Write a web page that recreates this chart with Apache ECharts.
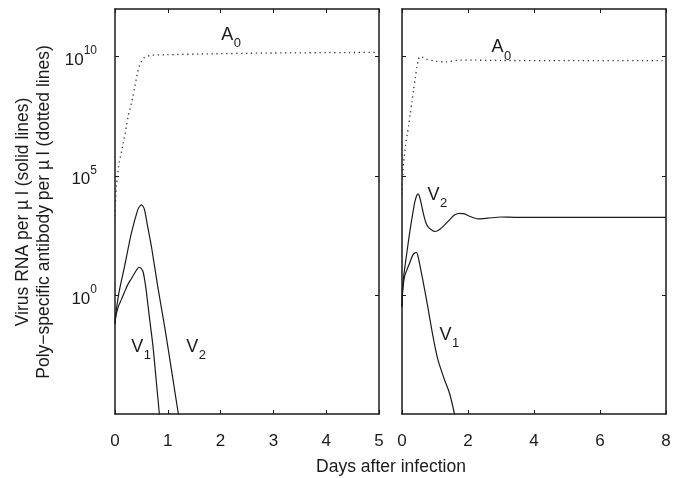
<!DOCTYPE html>
<html><head><meta charset="utf-8">
<script src="https://cdn.jsdelivr.net/npm/echarts@6/dist/echarts.min.js"></script>
<style>html,body{margin:0;padding:0;background:#fff}#c{width:685px;height:478px}</style>
</head><body><div id="c"></div>
<script>
// ---- data: [day, log10(value)] ----
const leftA0 = [[0,3.3],[0.008,3.8],[0.015,4.13],[0.028,4.62],[0.042,4.87],[0.053,5.11],[0.066,5.35],[0.08,5.57],[0.104,5.81],[0.129,6.06],[0.148,6.30],[0.167,6.51],[0.193,6.76],[0.22,7.14],[0.25,7.49],[0.28,7.77],[0.31,8.05],[0.34,8.33],[0.37,8.68],[0.40,9.03],[0.43,9.35],[0.46,9.59],[0.50,9.80],[0.54,9.94],[0.59,10.01],[0.69,10.06],[0.97,10.08],[1.6,10.11],[2.86,10.15],[5,10.18]];
const leftV1 = [[0,-1.2],[0.01,-1.0],[0.03,-0.75],[0.07,-0.45],[0.117,-0.21],[0.18,0.12],[0.24,0.42],[0.31,0.68],[0.37,0.91],[0.42,1.08],[0.45,1.16],[0.49,1.12],[0.53,0.98],[0.56,0.65],[0.59,0.21],[0.62,-0.35],[0.65,-0.91],[0.72,-2.17],[0.78,-3.57],[0.84,-5],[0.86,-5.5]];
const leftV2 = [[0,-1.2],[0.01,-0.9],[0.04,-0.4],[0.085,0.21],[0.18,1.19],[0.31,2.59],[0.43,3.57],[0.47,3.72],[0.50,3.78],[0.53,3.72],[0.56,3.57],[0.62,2.85],[0.69,2.03],[0.81,0.35],[0.94,-1.33],[1.06,-3.01],[1.20,-5],[1.23,-5.4]];
const rightA0 = [[0,4.2],[0.006,4.59],[0.015,4.83],[0.025,5.08],[0.036,5.32],[0.046,5.53],[0.067,5.79],[0.085,6.02],[0.106,6.26],[0.127,6.48],[0.158,6.72],[0.2,7.1],[0.25,7.6],[0.3,8.1],[0.35,8.6],[0.4,9.1],[0.45,9.55],[0.5,9.9],[0.54,10.0],[0.6,9.99],[0.73,9.90],[1.04,9.80],[1.34,9.78],[1.75,9.85],[2.2,9.85],[3,9.84],[5,9.83],[8,9.83]];
const rightV1 = [[0,-0.5],[0.01,-0.1],[0.03,0.3],[0.076,0.77],[0.15,1.05],[0.23,1.33],[0.33,1.68],[0.40,1.77],[0.43,1.78],[0.47,1.7],[0.53,1.33],[0.63,0.63],[0.78,-0.49],[0.94,-1.75],[1.09,-2.73],[1.29,-3.57],[1.44,-4.13],[1.59,-5],[1.62,-5.3]];
const rightV2 = [[0,-0.5],[0.01,0.0],[0.03,0.5],[0.076,1.05],[0.15,1.8],[0.23,2.59],[0.3,3.2],[0.38,3.85],[0.44,4.15],[0.48,4.24],[0.52,4.17],[0.58,3.85],[0.65,3.4],[0.73,3.01],[0.81,2.82],[0.89,2.73],[0.99,2.66],[1.09,2.70],[1.19,2.80],[1.44,3.15],[1.6,3.36],[1.75,3.42],[1.9,3.40],[2.05,3.30],[2.3,3.19],[2.6,3.22],[3.0,3.27],[3.5,3.25],[5,3.25],[8,3.25]];

const yTickExponents = [0, 5, 10];
const yRangeExponents = [-5, 12];
const xTicksLeft = [0, 1, 2, 3, 4, 5];
const xTicksRight = [0, 2, 4, 6, 8];

// curve annotations: [panel, day, log10 anchor, main, sub]
const curveLabels = [[0,2.01,10.92,'A','0'],[0,0.307,-2.17,'V','1'],[0,1.35,-2.17,'V','2'],
                     [1,2.71,10.40,'A','0'],[1,0.774,4.20,'V','2'],[1,1.14,-1.68,'V','1']];

const FONT = '"Liberation Sans", Arial, Helvetica, sans-serif';
const INK = '#1a1a1a';
const toVal = arr => arr.map(p => [p[0], Math.pow(10, p[1])]);
const yTickVals = yTickExponents.map(e => Math.pow(10, e));

const axisLineStyle = {show: true, onZero: false, lineStyle: {color: INK, width: 1.5}};
function xAxes(gi, ticks) {
  const base = {gridIndex: gi, type: 'value', min: ticks[0], max: ticks[ticks.length-1],
    interval: ticks[1]-ticks[0], splitLine: {show: false}, axisLine: axisLineStyle};
  return [
    Object.assign({}, base, {position: 'bottom',
      axisTick: {show: true, inside: true, length: 4, lineStyle: {color: INK, width: 1}},
      axisLabel: {show: true, margin: 19, fontSize: 17, color: INK, fontFamily: FONT}}),
    Object.assign({}, base, {position: 'top',
      axisTick: {show: true, inside: true, length: 4, lineStyle: {color: INK, width: 1}},
      axisLabel: {show: false}})
  ];
}
function yAxes(gi, labels) {
  const base = {gridIndex: gi, type: 'log', logBase: 10,
    min: Math.pow(10, yRangeExponents[0]), max: Math.pow(10, yRangeExponents[1]),
    splitLine: {show: false}, minorTick: {show: false}, axisLine: axisLineStyle,
    axisTick: {show: true, inside: true, length: 4, customValues: yTickVals, lineStyle: {color: INK, width: 1}}};
  return [
    Object.assign({}, base, {position: 'left',
      axisLabel: labels ? {show: true, margin: 18, customValues: yTickVals, fontFamily: FONT, color: INK,
        formatter: v => '{b|10}{s|' + Math.round(Math.log10(v)) + '}',
        rich: {b: {fontSize: 17, lineHeight: 17, fontFamily: FONT, color: INK, padding: [8,0,0,0]},
               s: {fontSize: 12, lineHeight: 12, fontFamily: FONT, color: INK, padding: [0,0,11,0]}}} : {show: false}}),
    Object.assign({}, base, {position: 'right', axisLabel: {show: false}})
  ];
}

const solid = {color: INK, width: 1.2, type: 'solid'};
const dotted = {color: '#333', width: 1.3, type: [1.3, 3.6]};
function line(data, xi, yi, style) {
  return {type: 'line', xAxisIndex: xi, yAxisIndex: yi, data: toVal(data), showSymbol: false,
    smooth: 0.25, lineStyle: style, silent: true, animation: false, clip: true};
}

const chart = echarts.init(document.getElementById('c'), null, {renderer: 'canvas'});
chart.setOption({
  animation: false,
  backgroundColor: '#fff',
  grid: [{left: 115, top: 9, width: 264, height: 405},
         {left: 402, top: 9, width: 264, height: 405}],
  xAxis: xAxes(0, xTicksLeft).concat(xAxes(1, xTicksRight)),
  yAxis: yAxes(0, true).concat(yAxes(1, false)),
  series: [
    line(leftA0, 0, 0, dotted), line(leftV1, 0, 0, solid), line(leftV2, 0, 0, solid),
    line(rightA0, 2, 2, dotted), line(rightV1, 2, 2, solid), line(rightV2, 2, 2, solid)
  ]
});

const graphics = [
  {type: 'text', style: {text: 'Virus RNA per \u00b5 l (solid lines)\nPoly\u2212specific antibody per \u00b5 l (dotted lines)',
     x: 0, y: 0, font: '17.5px ' + FONT, fill: INK, align: 'center', verticalAlign: 'middle',
     textAlign: 'center', textVerticalAlign: 'middle', lineHeight: 21},
   x: 34, y: 212, rotation: Math.PI / 2},
  {type: 'text', style: {text: 'Days after infection', x: 391, y: 467, font: '17.5px ' + FONT, fill: INK,
     align: 'center', verticalAlign: 'middle', textAlign: 'center', textVerticalAlign: 'middle'}}
];
curveLabels.forEach(l => {
  const p = chart.convertToPixel({gridIndex: l[0]}, [l[1], Math.pow(10, l[2])]);
  graphics.push({type: 'text', style: {text: l[3], x: p[0], y: p[1], font: '18px ' + FONT, fill: INK,
    align: 'left', verticalAlign: 'middle', textAlign: 'left', textVerticalAlign: 'middle'}});
  graphics.push({type: 'text', style: {text: l[4], x: p[0] + 12.5, y: p[1] + 9, font: '13px ' + FONT, fill: INK,
    align: 'left', verticalAlign: 'middle', textAlign: 'left', textVerticalAlign: 'middle'}});
});
chart.setOption({graphic: graphics});
</script>
</body></html>
